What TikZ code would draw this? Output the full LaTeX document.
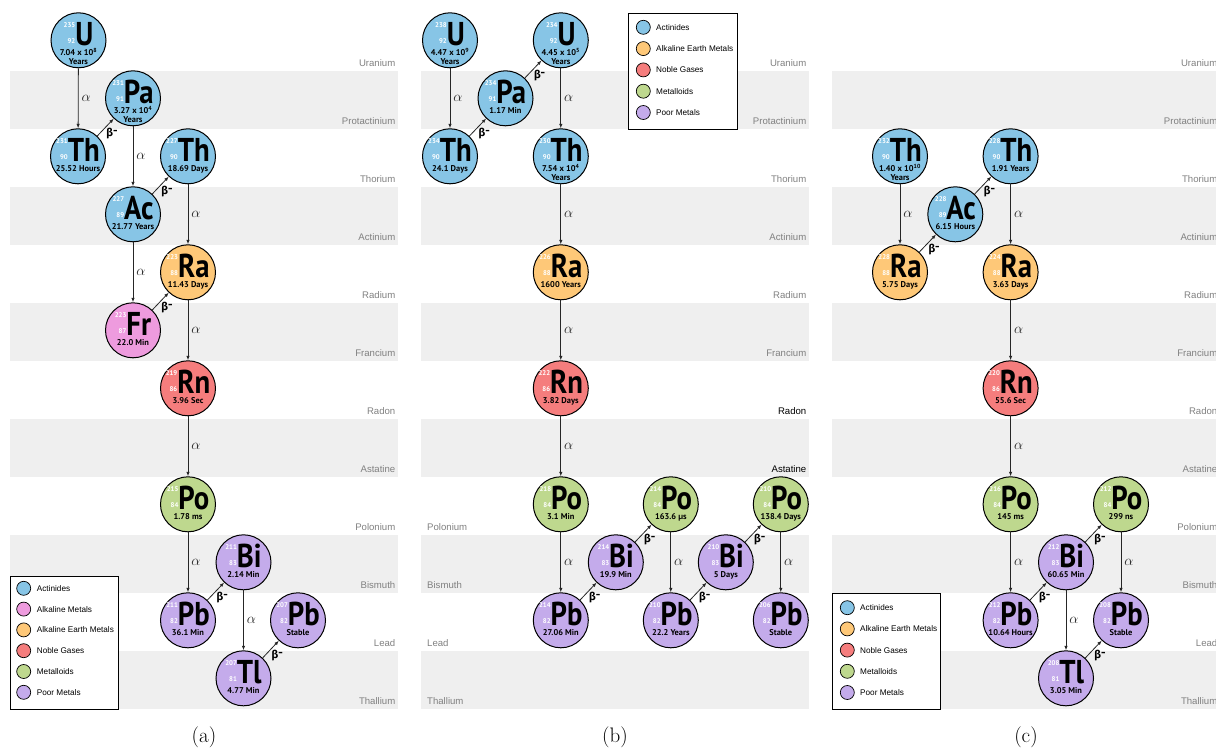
\documentclass[tikz,border=0pt]{standalone}
\usepackage{fontspec}
\newfontfamily\ptsans{PT Sans}
\newfontfamily\symfnt{PT Sans}[FakeStretch=0.87]
\newfontfamily\fira{Fira Sans}
\newfontfamily\libsans{Liberation Sans}
\usetikzlibrary{calc,arrows.meta}
\definecolor{cAct}{RGB}{135,197,230}
\definecolor{cAlk}{RGB}{238,155,222}
\definecolor{cAle}{RGB}{254,200,120}
\definecolor{cNob}{RGB}{245,125,125}
\definecolor{cMet}{RGB}{190,216,142}
\definecolor{cPoo}{RGB}{196,171,235}
\definecolor{bandgray}{RGB}{239,239,239}
\definecolor{rowgray}{RGB}{128,128,128}
\tikzset{
  elem/.style={circle, draw=black, line width=1pt, minimum size=55pt, inner sep=0pt},
  symlab/.style={anchor=base, inner sep=0pt, text depth=0pt, font=\symfnt\bfseries\fontsize{33}{33}\selectfont},
  hl/.style={anchor=base, inner sep=0pt, font=\ptsans\bfseries\fontsize{8.4}{8}\selectfont},
  arr/.style={-{Latex[length=4.5pt,width=3.5pt]}, line width=0.8pt, draw=black!85},
  alab/.style={midway, right=3pt, inner sep=0pt, font=\fontsize{14}{14}\selectfont, text=black!85},
  blab/.style={midway, anchor=north west, inner sep=0.5pt, font=\fira\bfseries\fontsize{11}{12}\selectfont},
  rowlab/.style={font=\libsans\fontsize{9.6}{10}\selectfont, text=rowgray, inner sep=0pt},
  legbox/.style={draw=black, line width=0.8pt, fill=white},
  legdot/.style={circle, draw=black, line width=0.7pt, minimum size=14pt, inner sep=0pt},
  legtxt/.style={anchor=west, font=\libsans\fontsize{8.2}{9}\selectfont, inner sep=0pt},
  captxt/.style={font=\fontsize{21}{21}\selectfont, inner sep=0pt}
}
\newcommand\nums[2]{\raisebox{1.5pt}{\ptsans\bfseries\fontsize{6.8}{16}\selectfont\color{white}\begin{tabular}[b]{@{}r@{}}#1\\#2\end{tabular}}}
\newcommand\hltab[1]{\begin{tabular}[t]{@{}c@{}}#1\end{tabular}}
\newcommand\elem[8]{%
  \node[elem, fill=#4] (#1) at ({#2},{40.3+58*#3}) {};
  \node[symlab] (#1-s) at ($(#1)+(0,5)$) {\nums{#5}{#6}#7};
  \node[hl] (#1-h) at ($(#1)+(0,15.5)$) {\hltab{#8}};
}
\newcommand\bmin{β\raisebox{2.5pt}{-}}
\begin{document}
\begin{tikzpicture}[x=1pt,y=-1pt]
\useasboundingbox (0,0) rectangle (1216,749);
\clip (0,0) rectangle (1216,749);
% bands
\foreach \px in {10,421,832}{
  \foreach \i in {1,3,5,7,9,11}{
    \fill[bandgray] (\px,{12.9+58*\i}) rectangle ++(388,58);
  }
}
% row labels
\def\rownames{Uranium,Protactinium,Thorium,Actinium,Radium,Francium,Radon,Astatine,Polonium,Bismuth,Lead,Thallium}
\foreach \n [count=\i from 0] in \rownames {
  \node[rowlab, anchor=base east] (a-r\i) at (395.5,{12.9+58*(\i+1)-4.2}) {\n};
  \node[rowlab, anchor=base east] (c-r\i) at (1217.5,{12.9+58*(\i+1)-4.2}) {\n};
}
\foreach \n [count=\i from 0] in {Uranium,Protactinium,Thorium,Actinium,Radium,Francium} {
  \node[rowlab, anchor=base east] (b-r\i) at (806.5,{12.9+58*(\i+1)-4.2}) {\n};
}
\node[rowlab, anchor=base east, text=black] (b-r6) at (806.5,{12.9+58*7-4.2}) {Radon};
\node[rowlab, anchor=base east, text=black] (b-r7) at (806.5,{12.9+58*8-4.2}) {Astatine};
\foreach \n [count=\i from 8] in {Polonium,Bismuth,Lead,Thallium} {
  \node[rowlab, anchor=base west] (b-r\i) at (427,{12.9+58*(\i+1)-4.2}) {\n};
}

% ---------- panel (a) ----------
\elem{aU}{78.5}{0}{cAct}{235}{92}{U}{7.04 x 10\textsuperscript{8}\\Years}
\elem{aTh1}{78}{2}{cAct}{231}{90}{Th}{25.52 Hours}
\elem{aPa}{133}{1}{cAct}{231}{91}{Pa}{3.27 x 10\textsuperscript{4}\\Years}
\elem{aAc}{133}{3}{cAct}{227}{89}{Ac}{21.77 Years}
\elem{aTh2}{188}{2}{cAct}{227}{90}{Th}{18.69 Days}
\elem{aFr}{133}{5}{cAlk}{223}{87}{Fr}{22.0 Min}
\elem{aRa}{188}{4}{cAle}{223}{88}{Ra}{11.43 Days}
\elem{aRn}{188}{6}{cNob}{219}{86}{Rn}{3.96 Sec}
\elem{aPo}{188}{8}{cMet}{215}{84}{Po}{1.78 ms}
\elem{aPb1}{188}{10}{cPoo}{211}{82}{Pb}{36.1 Min}
\elem{aBi}{243.5}{9}{cPoo}{211}{83}{Bi}{2.14 Min}
\elem{aTl}{243.5}{11}{cPoo}{207}{81}{Tl}{4.77 Min}
\elem{aPb2}{298}{10}{cPoo}{207}{82}{Pb}{Stable}
\draw[arr] (aU) -- node[alab] (aL1) {$\alpha$} (aTh1);
\draw[arr] (aTh1) -- node[blab] (aL2) {\bmin} (aPa);
\draw[arr] (aPa) -- node[alab] (aL3) {$\alpha$} (aAc);
\draw[arr] (aAc) -- node[blab] (aL4) {\bmin} (aTh2);
\draw[arr] (aTh2) -- node[alab] (aL5) {$\alpha$} (aRa);
\draw[arr] (aAc) -- node[alab] (aL6) {$\alpha$} (aFr);
\draw[arr] (aFr) -- node[blab] (aL7) {\bmin} (aRa);
\draw[arr] (aRa) -- node[alab] (aL8) {$\alpha$} (aRn);
\draw[arr] (aRn) -- node[alab] (aL9) {$\alpha$} (aPo);
\draw[arr] (aPo) -- node[alab] (aL10) {$\alpha$} (aPb1);
\draw[arr] (aPb1) -- node[blab] (aL11) {\bmin} (aBi);
\draw[arr] (aBi) -- node[alab] (aL12) {$\alpha$} (aTl);
\draw[arr] (aTl) -- node[blab] (aL13) {\bmin} (aPb2);

% ---------- panel (b) ----------
\elem{bU1}{450}{0}{cAct}{238}{92}{U}{4.47 x 10\textsuperscript{9}\\Years}
\elem{bTh1}{450}{2}{cAct}{234}{90}{Th}{24.1 Days}
\elem{bPa}{505.5}{1}{cAct}{234}{91}{Pa}{1.17 Min}
\elem{bU2}{560.8}{0}{cAct}{234}{92}{U}{4.45 x 10\textsuperscript{5}\\Years}
\elem{bTh2}{560.8}{2}{cAct}{230}{90}{Th}{7.54 x 10\textsuperscript{4}\\Years}
\elem{bRa}{560.8}{4}{cAle}{226}{88}{Ra}{1600 Years}
\elem{bRn}{560.8}{6}{cNob}{222}{86}{Rn}{3.82 Days}
\elem{bPo1}{560.8}{8}{cMet}{218}{84}{Po}{3.1 Min}
\elem{bPb1}{560.8}{10}{cPoo}{214}{82}{Pb}{27.06 Min}
\elem{bBi1}{615.8}{9}{cPoo}{214}{83}{Bi}{19.9 Min}
\elem{bPo2}{670.8}{8}{cMet}{214}{84}{Po}{163.6 µs}
\elem{bPb2}{670.8}{10}{cPoo}{210}{82}{Pb}{22.2 Years}
\elem{bBi2}{725.8}{9}{cPoo}{210}{83}{Bi}{5 Days}
\elem{bPo3}{780.8}{8}{cMet}{210}{84}{Po}{138.4 Days}
\elem{bPb3}{780.8}{10}{cPoo}{206}{82}{Pb}{Stable}
\draw[arr] (bU1) -- node[alab] (bL1) {$\alpha$} (bTh1);
\draw[arr] (bTh1) -- node[blab] (bL2) {\bmin} (bPa);
\draw[arr] (bPa) -- node[blab] (bL3) {\bmin} (bU2);
\draw[arr] (bU2) -- node[alab] (bL4) {$\alpha$} (bTh2);
\draw[arr] (bTh2) -- node[alab] (bL5) {$\alpha$} (bRa);
\draw[arr] (bRa) -- node[alab] (bL6) {$\alpha$} (bRn);
\draw[arr] (bRn) -- node[alab] (bL7) {$\alpha$} (bPo1);
\draw[arr] (bPo1) -- node[alab] (bL8) {$\alpha$} (bPb1);
\draw[arr] (bPb1) -- node[blab] (bL9) {\bmin} (bBi1);
\draw[arr] (bBi1) -- node[blab] (bL10) {\bmin} (bPo2);
\draw[arr] (bPo2) -- node[alab] (bL11) {$\alpha$} (bPb2);
\draw[arr] (bPb2) -- node[blab] (bL12) {\bmin} (bBi2);
\draw[arr] (bBi2) -- node[blab] (bL13) {\bmin} (bPo3);
\draw[arr] (bPo3) -- node[alab] (bL14) {$\alpha$} (bPb3);

% ---------- panel (c) ----------
\elem{cTh1}{900}{2}{cAct}{232}{90}{Th}{1.40 x 10\textsuperscript{10}\\Years}
\elem{cRa1}{900}{4}{cAle}{228}{88}{Ra}{5.75 Days}
\elem{cAc}{955.3}{3}{cAct}{228}{89}{Ac}{6.15 Hours}
\elem{cTh2}{1010.6}{2}{cAct}{228}{90}{Th}{1.91 Years}
\elem{cRa2}{1010.6}{4}{cAle}{224}{88}{Ra}{3.63 Days}
\elem{cRn}{1010.6}{6}{cNob}{220}{86}{Rn}{55.6 Sec}
\elem{cPo1}{1010.6}{8}{cMet}{216}{84}{Po}{145 ms}
\elem{cPb1}{1010.6}{10}{cPoo}{212}{82}{Pb}{10.64 Hours}
\elem{cBi}{1066}{9}{cPoo}{212}{83}{Bi}{60.65 Min}
\elem{cPo2}{1121}{8}{cMet}{212}{84}{Po}{299 ns}
\elem{cPb2}{1121}{10}{cPoo}{208}{82}{Pb}{Stable}
\elem{cTl}{1066}{11}{cPoo}{208}{81}{Tl}{3.05 Min}
\draw[arr] (cTh1) -- node[alab] (cL1) {$\alpha$} (cRa1);
\draw[arr] (cRa1) -- node[blab] (cL2) {\bmin} (cAc);
\draw[arr] (cAc) -- node[blab] (cL3) {\bmin} (cTh2);
\draw[arr] (cTh2) -- node[alab] (cL4) {$\alpha$} (cRa2);
\draw[arr] (cRa2) -- node[alab] (cL5) {$\alpha$} (cRn);
\draw[arr] (cRn) -- node[alab] (cL6) {$\alpha$} (cPo1);
\draw[arr] (cPo1) -- node[alab] (cL7) {$\alpha$} (cPb1);
\draw[arr] (cPb1) -- node[blab] (cL8) {\bmin} (cBi);
\draw[arr] (cBi) -- node[blab] (cL9) {\bmin} (cPo2);
\draw[arr] (cPo2) -- node[alab] (cL10) {$\alpha$} (cPb2);
\draw[arr] (cBi) -- node[alab] (cL11) {$\alpha$} (cTl);
\draw[arr] (cTl) -- node[blab] (cL12) {\bmin} (cPb2);

% ---------- legends ----------
\draw[legbox] (10,576) rectangle (118.3,709.3);
\foreach \c/\t [count=\k from 0] in {cAct/Actinides,cAlk/Alkaline Metals,cAle/Alkaline Earth Metals,cNob/Noble Gases,cMet/Metalloids,cPoo/Poor Metals}{
  \node[legdot, fill=\c] (la-d\k) at (23.7,{588.3+20.8*\k}) {};
  \node[legtxt] (la-t\k) at (36.7,{588.3+20.8*\k}) {\t};
}
\draw[legbox] (628.3,13.3) rectangle (737.3,129);
\foreach \c/\t [count=\k from 0] in {cAct/Actinides,cAle/Alkaline Earth Metals,cNob/Noble Gases,cMet/Metalloids,cPoo/Poor Metals}{
  \node[legdot, fill=\c] (lb-d\k) at (643.3,{27.3+21.3*\k}) {};
  \node[legtxt] (lb-t\k) at (656,{27.3+21.3*\k}) {\t};
}
\draw[legbox] (832.7,593.3) rectangle (940.7,709.3);
\foreach \c/\t [count=\k from 0] in {cAct/Actinides,cAle/Alkaline Earth Metals,cNob/Noble Gases,cMet/Metalloids,cPoo/Poor Metals}{
  \node[legdot, fill=\c] (lc-d\k) at (847.3,{607.7+21.2*\k}) {};
  \node[legtxt] (lc-t\k) at (860,{607.7+21.2*\k}) {\t};
}

% ---------- captions ----------
\node[captxt] (capa) at (204,737) {(a)};
\node[captxt] (capb) at (615,737) {(b)};
\node[captxt] (capc) at (1026,737) {(c)};
\end{tikzpicture}
\end{document}
